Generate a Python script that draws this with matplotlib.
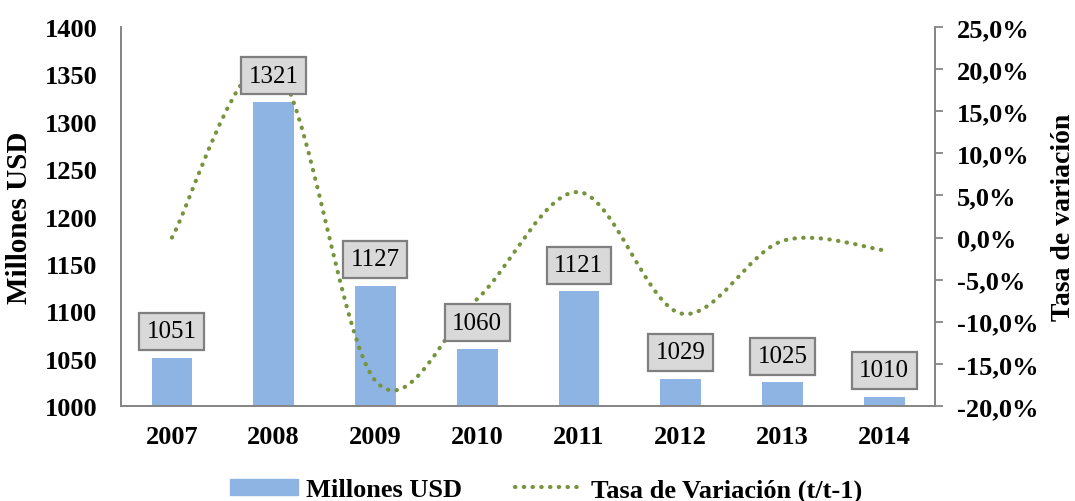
import matplotlib
matplotlib.use("Agg")
import matplotlib.pyplot as plt
from matplotlib.path import Path
from matplotlib.patches import PathPatch, Patch
from matplotlib.lines import Line2D

plt.rcParams['font.family'] = ['Liberation Serif', 'DejaVu Serif']

years = ['2007', '2008', '2009', '2010', '2011', '2012', '2013', '2014']
millones = [1051, 1321, 1127, 1060, 1121, 1029, 1025, 1010]
# tasa de variacion (%)
tasa = [0.0, 20.5, -17.0, -7.3, 5.4, -9.0, -0.4, -1.5]

azul = '#8DB4E2'
verde = '#77933C'
gris = '#868686'

fig = plt.figure(figsize=(10.75, 5.02), dpi=100)
ax = fig.add_axes([0.1126, 0.1892, 0.7572, 0.755])
ax2 = ax.twinx()

x = list(range(len(years)))
ax.bar(x, millones, width=0.4, color=azul, zorder=2)
ax.set_xlim(-0.5, len(years) - 0.5)
ax.set_ylim(1000, 1400)
ax.set_yticks(range(1000, 1401, 50))
ax.set_xticks(x)
ax.set_xticklabels(years)

# curva suavizada (bezier tipo catmull-rom, como excel)
pts = list(zip(x, tasa))
verts = [pts[0]]
codes = [Path.MOVETO]
for i in range(len(pts) - 1):
    p0 = pts[i - 1] if i > 0 else pts[i]
    p1 = pts[i]
    p2 = pts[i + 1]
    p3 = pts[i + 2] if i + 2 < len(pts) else pts[i + 1]
    c1 = (p1[0] + (p2[0] - p0[0]) / 6, p1[1] + (p2[1] - p0[1]) / 6)
    c2 = (p2[0] - (p3[0] - p1[0]) / 6, p2[1] - (p3[1] - p1[1]) / 6)
    verts += [c1, c2, p2]
    codes += [Path.CURVE4] * 3
punteado = (0, (0.1, 2.0))
curva = PathPatch(Path(verts, codes), fill=False, edgecolor=verde, lw=3.0,
                  linestyle=punteado, capstyle='round', zorder=3)
ax2.add_patch(curva)
ax2.set_ylim(-20, 25)
ax2.set_yticks(range(-20, 26, 5))
ax2.set_yticklabels([f"{v:.1f}%".replace('.', ',') for v in range(-20, 26, 5)])

# etiquetas de datos
for xi, v in zip(x, millones):
    ax2.annotate(str(v), xy=(xi, v), xycoords=ax.transData,
                 xytext=(0, 11), textcoords='offset points',
                 ha='center', va='bottom', fontsize=18, zorder=5,
                 bbox=dict(boxstyle='square,pad=0.3', fc='#D9D9D9',
                           ec='#7F7F7F', lw=1.6))

for a in (ax, ax2):
    a.spines['top'].set_visible(False)
    for s in ('left', 'right', 'bottom'):
        a.spines[s].set_color(gris)
        a.spines[s].set_linewidth(1.3)

ax.tick_params(axis='y', length=0, pad=17, labelsize=19)
ax.tick_params(axis='x', length=0, pad=14, labelsize=19)
ax2.tick_params(axis='y', length=6, width=1.3, color=gris, pad=10, labelsize=19)
for lbl in ax.get_yticklabels() + ax.get_xticklabels() + ax2.get_yticklabels():
    lbl.set_fontweight('bold')

ax.set_ylabel('Millones USD', fontsize=21, fontweight='bold', labelpad=8)
ax2.set_ylabel('Tasa de variación', fontsize=20, fontweight='bold', labelpad=9)

handles = [Patch(color=azul, label='Millones USD'),
           Line2D([0], [0], color=verde, lw=3.0, linestyle=punteado,
                  dash_capstyle='round', label='Tasa de Variación (t/t-1)')]
fig.legend(handles=handles, loc='center', bbox_to_anchor=(0.508, 0.022), ncol=2,
           frameon=False, prop={'size': 19, 'weight': 'bold'},
           handlelength=2.6, handleheight=0.6, columnspacing=2.0, handletextpad=0.3)

fig.savefig('out.png', dpi=100)
